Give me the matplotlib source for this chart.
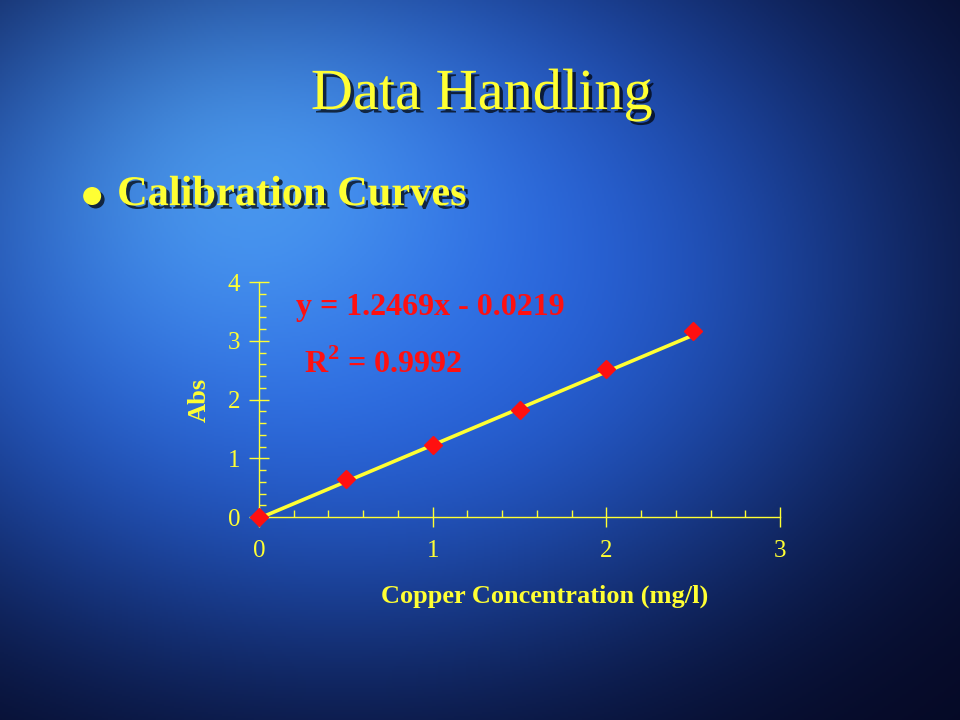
import numpy as np
import matplotlib.pyplot as plt
import matplotlib.patheffects as pe

# calibration data
conc = [0.0, 0.5, 1.0, 1.5, 2.0, 2.5]
absorb = [0.0, 0.65, 1.22, 1.83, 2.52, 3.17]
slope = 1.2469
intercept = -0.0219
fit_x = [0.0, 2.5]

title = "Data Handling"
bullet = "Calibration Curves"
eq_text = "y = 1.2469x - 0.0219"
r2_text = "R$^2$ = 0.9992"

YEL = "#ffff33"
RED = "#ff1010"

plt.rcParams['font.family'] = ['Liberation Serif', 'DejaVu Serif']
plt.rcParams['mathtext.fontset'] = 'custom'
plt.rcParams['mathtext.rm'] = 'Liberation Serif:bold'

fig = plt.figure(figsize=(9.6, 7.2), dpi=100)

# slide background: smooth blue gradient, dark at the edges
bg = fig.add_axes([0, 0, 1, 1], zorder=0)
h, w = 360, 480
yy, xx = np.mgrid[0:1:h * 1j, 0:1:w * 1j]
glow = np.exp(-(((xx - 0.36) / 0.58) ** 2 + ((yy - 0.38) / 0.55) ** 2) ** 1.5)
hot = np.exp(-(((xx - 0.25) / 0.25) ** 2 + ((yy - 0.25) / 0.28) ** 2))
dark = np.array([5, 8, 35]) / 255
mid = np.array([40, 100, 225]) / 255
light = np.array([95, 185, 250]) / 255
img = dark + (mid - dark) * glow[..., None]
img = img + (light - mid) * (hot[..., None] * 0.6)
img = np.clip(img, 0, 1)
bg.imshow(img, aspect='auto', extent=[0, 1, 0, 1], origin='upper')
bg.set_xlim(0, 1)
bg.set_ylim(0, 1)
bg.axis('off')

shadow = [pe.SimplePatchShadow(offset=(2.5, -2.5), shadow_rgbFace='black', alpha=0.7), pe.Normal()]

fig.text(0.502, 0.868, title, color=YEL, fontsize=42, ha='center', va='center',
         path_effects=shadow, zorder=5)
fig.text(0.122, 0.729, bullet, color=YEL, fontsize=30.5, fontweight='bold',
         ha='left', va='center', path_effects=shadow, zorder=5)
fig.text(0.096, 0.729, "\u25CF", color=YEL, fontsize=17, ha='center', va='center',
         family=['DejaVu Sans'], path_effects=shadow, zorder=5)

ax = fig.add_axes([0.2698, 0.2819, 0.5427, 0.3264], zorder=2)
ax.patch.set_alpha(0)

ax.plot(fit_x, [slope * v + intercept for v in fit_x], color=YEL, lw=2.6,
        zorder=3, clip_on=False)
ax.plot(conc, absorb, linestyle='none', marker='D', markersize=9.5,
        color=RED, zorder=4, clip_on=False)

ax.set_xlim(0, 3)
ax.set_ylim(0, 4)
ax.set_xticks([0, 1, 2, 3])
ax.set_yticks([0, 1, 2, 3, 4])
ax.set_xticks(np.arange(0, 3.01, 0.2), minor=True)
ax.set_yticks(np.arange(0, 4.01, 0.2), minor=True)

for s in ['top', 'right']:
    ax.spines[s].set_visible(False)
for s in ['left', 'bottom']:
    ax.spines[s].set_color(YEL)
    ax.spines[s].set_linewidth(1.0)

ax.tick_params(which='major', direction='inout', length=15, width=1.0,
               colors=YEL, labelsize=18)
ax.tick_params(which='minor', direction='in', length=5, width=1.0, colors=YEL)
ax.tick_params(axis='x', which='major', pad=9)
ax.tick_params(axis='y', which='major', pad=6)

ax.set_xlabel("Copper Concentration (mg/l)", color=YEL, fontsize=19,
              fontweight='bold')
ax.xaxis.set_label_coords(0.549, -0.288)
ax.set_ylabel("Abs", color=YEL, fontsize=19, fontweight='bold', labelpad=12)

ax.text(0.215, 3.57, eq_text, color=RED, fontsize=23, fontweight='bold',
        ha='left', va='center')
ax.text(0.26, 2.60, r2_text, color=RED, fontsize=23, fontweight='bold',
        ha='left', va='center')

fig.savefig("out.png", dpi=100)
